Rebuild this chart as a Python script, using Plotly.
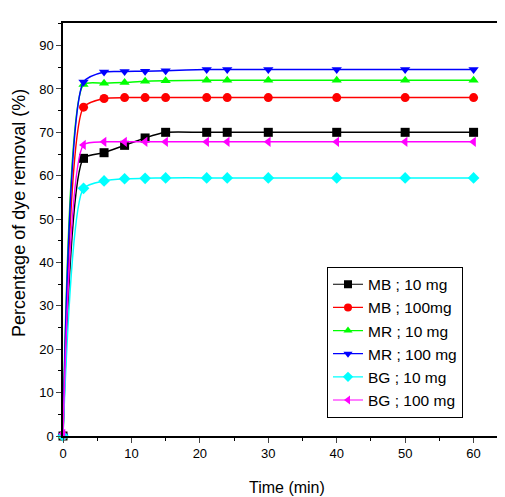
import plotly.graph_objects as go

time_min = [0, 3, 6, 9, 12, 15, 21, 24, 30, 40, 50, 60]

mb_10 = [0, 64.0, 65.3, 67.0, 68.7, 70.0, 70.0, 70.0, 70.0, 70.0, 70.0, 70.0]
mb_100 = [0, 75.8, 77.8, 78.0, 78.0, 78.0, 78.0, 78.0, 78.0, 78.0, 78.0, 78.0]
mr_10 = [0, 81.0, 81.3, 81.5, 81.8, 81.9, 82.0, 82.0, 82.0, 82.0, 82.0, 82.0]
mr_100 = [0, 81.6, 83.9, 84.0, 84.1, 84.2, 84.5, 84.5, 84.5, 84.5, 84.5, 84.5]
bg_10 = [0, 57.1, 58.8, 59.3, 59.4, 59.5, 59.5, 59.5, 59.5, 59.5, 59.5, 59.5]
bg_100 = [0.5, 67.1, 67.8, 67.8, 67.8, 67.8, 67.8, 67.8, 67.8, 67.8, 67.8, 67.8]

series_names = ["MB ; 10 mg", "MB ; 100mg", "MR ; 10 mg", "MR ; 100 mg", "BG ; 10 mg", "BG ; 100 mg"]
series_values = [mb_10, mb_100, mr_10, mr_100, bg_10, bg_100]
colors = ["#000000", "#ff0000", "#00ff00", "#0000ff", "#00ffff", "#ff00ff"]
symbols = ["square", "circle", "triangle-up", "triangle-down", "diamond", "triangle-left"]

x_ticks = [0, 10, 20, 30, 40, 50, 60]
y_ticks = [0, 10, 20, 30, 40, 50, 60, 70, 80, 90]

fig = go.Figure()
for name, vals, c, s in zip(series_names, series_values, colors, symbols):
    fig.add_trace(go.Scatter(
        x=time_min, y=vals, name=name, mode="lines+markers", showlegend=False,
        line=dict(color=c, width=1.5, shape="spline", smoothing=0.6),
        marker=dict(color=c, symbol=s, size=9, line=dict(width=0)),
        cliponaxis=False,
    ))
# legend entries with smaller symbols
for name, c, s in zip(series_names, colors, symbols):
    fig.add_trace(go.Scatter(
        x=[None], y=[None], name=name, mode="lines+markers",
        line=dict(color=c, width=1.2),
        marker=dict(color=c, symbol=s, size=8, line=dict(width=0)),
    ))

font_family = "Liberation Sans, Arial, sans-serif"
fig.update_layout(
    width=497, height=489,
    margin=dict(l=55, r=2, t=15, b=61),
    paper_bgcolor="white", plot_bgcolor="white",
    font=dict(family=font_family, color="#000000", size=13),
    legend=dict(
        x=0.60, y=0.41, xanchor="left", yanchor="top",
        bordercolor="#000000", borderwidth=1, bgcolor="white",
        font=dict(size=15.5), tracegroupgap=0, itemwidth=30,
    ),
    showlegend=True,
    annotations=[
        dict(text="Percentage of dye removal (%)", xref="paper", yref="paper",
             x=-0.0988, y=0.539, xanchor="center", yanchor="middle",
             textangle=-90, showarrow=False, font=dict(size=18)),
        dict(text="Time (min)", xref="paper", yref="paper",
             x=0.508, y=-0.1235, xanchor="center", yanchor="middle",
             showarrow=False, font=dict(size=16)),
    ],
)
fig.update_xaxes(
    range=[0, 64.3], tickvals=x_ticks, ticks="outside", ticklen=5, tickwidth=1.2,
    showline=True, linecolor="#000000", linewidth=1.5, mirror=True,
    showgrid=False, zeroline=False, automargin=False,
    minor=dict(dtick=5, tick0=0, ticks="outside", ticklen=3, tickcolor="#000000", showgrid=False),
    tickfont=dict(size=13),
)
fig.update_yaxes(
    range=[0, 95.2], tickvals=y_ticks, ticks="outside", ticklen=5, tickwidth=1.2,
    showline=True, linecolor="#000000", linewidth=1.5, mirror=True,
    showgrid=False, zeroline=False, automargin=False,
    minor=dict(dtick=5, tick0=0, ticks="outside", ticklen=3, tickcolor="#000000", showgrid=False),
    tickfont=dict(size=13),
)

fig.write_html("out.html")
